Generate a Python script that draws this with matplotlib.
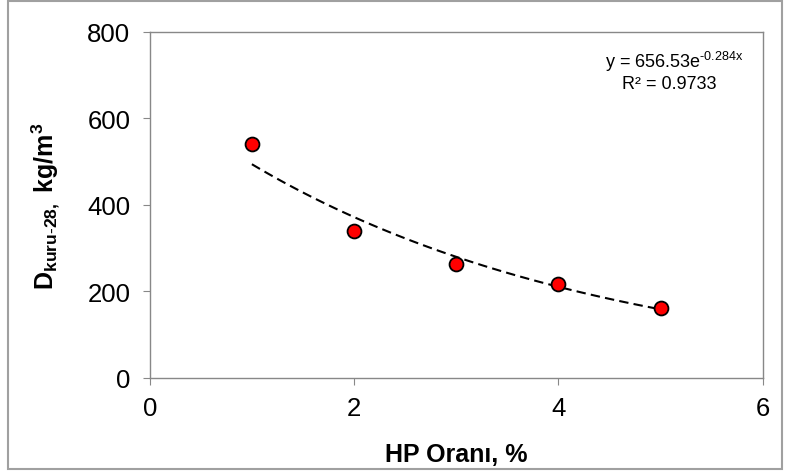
import matplotlib.pyplot as plt
import numpy as np
from matplotlib.patches import Rectangle

plt.rcParams['font.family'] = ['Liberation Sans', 'DejaVu Sans']
plt.rcParams['mathtext.fontset'] = 'custom'
plt.rcParams['mathtext.rm'] = 'Liberation Sans'
plt.rcParams['mathtext.bf'] = 'Liberation Sans:bold'

# data
hp_ratio = [1, 2, 3, 4, 5]
density = [541, 340, 264, 217, 162]
# trendline coefficients shown on the chart
fit_a = 656.53
fit_b = -0.284
xticks = [0, 2, 4, 6]
yticks = [0, 200, 400, 600, 800]

fig = plt.figure(figsize=(7.88, 4.77), dpi=100)
ax = fig.add_axes([0.190, 0.2055, 0.778, 0.7254])

# outer chart frame
fig.patches.append(Rectangle((0.010, 0.014), 0.982, 0.981, transform=fig.transFigure,
                             fill=False, edgecolor='#a0a0a0', linewidth=1.5))

xs = np.linspace(hp_ratio[0], hp_ratio[-1], 100)
ax.plot(xs, fit_a * np.exp(fit_b * xs), linestyle=(0, (4.5, 2.5)), color='black', linewidth=1.5, zorder=2)
ax.plot(hp_ratio, density, 'o', markersize=10, markerfacecolor='#ff0000',
        markeredgecolor='black', markeredgewidth=1.3, zorder=3)

ax.set_xlim(0, 6)
ax.set_ylim(0, 800)
ax.set_xticks(xticks)
ax.set_yticks(yticks)
ax.tick_params(direction='out', length=5, color='#888888', labelsize=18.5)
ax.tick_params(axis='y', pad=9)
ax.tick_params(axis='x', pad=8)
for s in ax.spines.values():
    s.set_color('#888888')
    s.set_linewidth(1.0)

ax.set_xlabel('HP Oranı, %', fontsize=18, fontweight='bold', labelpad=16)
ax.set_ylabel(r'$\mathbf{D_{kuru\text{-}28,}}$ $\mathbf{kg/m^{3}}$', fontsize=18, labelpad=18)

ax.text(0.855, 0.915, r'y = 656.53e$^{\mathrm{\text{-}0.284x}}$', transform=ax.transAxes,
        ha='center', va='center', fontsize=13)
ax.text(0.847, 0.852, 'R² = 0.9733', transform=ax.transAxes,
        ha='center', va='center', fontsize=13)

fig.savefig('out.png', dpi=100)
